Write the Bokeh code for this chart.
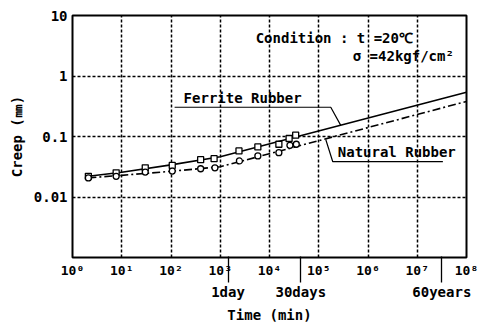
from bokeh.plotting import figure
from bokeh.models import Range1d, FixedTicker, Label, LogAxis
from bokeh.embed import file_html
from bokeh.resources import INLINE

# ---- data ----
ferrite_t = [2.1, 7.7, 30, 106, 400, 750, 2400, 5800, 15500, 25000, 34000]
ferrite_c = [0.022, 0.0251, 0.0304, 0.0332, 0.0414, 0.043, 0.0578, 0.0673, 0.0744, 0.0927, 0.105]
natural_t = [2.1, 7.7, 30, 106, 400, 780, 2450, 5800, 15500, 26000, 35000]
natural_c = [0.0207, 0.022, 0.0258, 0.0268, 0.0293, 0.0304, 0.0394, 0.0477, 0.054, 0.0716, 0.0744]

# fitted / extrapolated curves
ferrite_fit_t = [2.1, 10, 100, 1000, 1e8]
ferrite_fit_c = [0.022, 0.0256, 0.034, 0.0464, 0.54]
natural_fit_t = [2.1, 10, 100, 1000, 1e8]
natural_fit_c = [0.0207, 0.0228, 0.0266, 0.0316, 0.38]

x_ticks = [1, 10, 100, 1000, 1e4, 1e5, 1e6, 1e7, 1e8]
x_tick_labels = ["10⁰", "10¹", "10²", "10³", "10⁴", "10⁵", "10⁶", "10⁷", "10⁸"]
y_ticks = [0.01, 0.1, 1, 10]
y_tick_labels = ["0.01", "0.1", "1", "10"]

event_minutes = [1440, 43200, 31536000]
event_labels = ["1day", "30days", "60years"]

FONT = "DejaVu Sans Mono"

p = figure(width=480, height=329, x_axis_type="log", y_axis_type="log",
           x_range=Range1d(1, 1e8), y_range=Range1d(1e-3, 10),
           output_backend="svg", toolbar_location=None,
           min_border_left=72, min_border_right=14, min_border_top=15, min_border_bottom=72)

p.outline_line_color = "black"
p.outline_line_width = 2
p.background_fill_color = "white"
p.border_fill_color = "white"

# axes
p.xaxis.ticker = FixedTicker(ticks=x_ticks)
p.xaxis.major_label_overrides = {t: l for t, l in zip(x_ticks, x_tick_labels)}
p.yaxis.ticker = FixedTicker(ticks=y_ticks)
p.yaxis.major_label_overrides = {t: l for t, l in zip(y_ticks, y_tick_labels)}
for ax in (p.xaxis, p.yaxis):
    ax.axis_line_color = None
    ax.major_tick_line_color = None
    ax.minor_tick_line_color = None
    ax.major_tick_out = 0
    ax.major_tick_in = 0
    ax.minor_tick_out = 0
    ax.minor_tick_in = 0
    ax.major_label_text_font = FONT
    ax.major_label_text_color = "black"
    ax.major_label_text_font_style = "bold"
    ax.major_label_standoff = 5
p.xaxis.major_label_text_font_size = "13px"
p.yaxis.major_label_text_font_size = "14px"
p.yaxis.axis_label = "Creep (㎜)"
p.yaxis.axis_label_text_font = FONT
p.yaxis.axis_label_text_font_size = "14px"
p.yaxis.axis_label_text_font_style = "bold"
p.yaxis.axis_label_text_color = "black"
p.yaxis.axis_label_standoff = 6

# event axis (arrows as ticks reaching up to the frame)
ev_axis = LogAxis(ticker=FixedTicker(ticks=event_minutes),
                  major_label_overrides={t: l for t, l in zip(event_minutes, event_labels)})
ev_axis.axis_line_color = None
ev_axis.minor_tick_line_color = None
ev_axis.minor_tick_in = 0
ev_axis.minor_tick_out = 0
ev_axis.major_tick_line_color = "black"
ev_axis.major_tick_line_width = 1.3
ev_axis.major_tick_in = 24
ev_axis.major_tick_out = 2
ev_axis.major_label_standoff = 1
ev_axis.major_label_text_font = FONT
ev_axis.major_label_text_font_size = "14px"
ev_axis.major_label_text_font_style = "bold"
ev_axis.major_label_text_color = "black"
ev_axis.axis_label = "Time (min)"
ev_axis.axis_label_text_font = FONT
ev_axis.axis_label_text_font_size = "14px"
ev_axis.axis_label_text_font_style = "bold"
ev_axis.axis_label_text_color = "black"
ev_axis.axis_label_standoff = 4
p.add_layout(ev_axis, "below")

# grid
p.xgrid.ticker = FixedTicker(ticks=x_ticks[1:-1])
p.ygrid.ticker = FixedTicker(ticks=y_ticks[:-1])
for g in (p.xgrid, p.ygrid):
    g.grid_line_color = "black"
    g.grid_line_dash = "3 2"
    g.grid_line_width = 1.5
    g.grid_line_alpha = 1.0

# curves
p.line(ferrite_fit_t, ferrite_fit_c, line_color="black", line_width=1.6)
p.line(natural_fit_t, natural_fit_c, line_color="black", line_width=1.6, line_dash="8 3 2 3")

# markers
p.scatter(ferrite_t, ferrite_c, marker="square", size=6, fill_color="white",
          line_color="black", line_width=1.3)
p.scatter(natural_t, natural_c, marker="circle", size=6, fill_color="white",
          line_color="black", line_width=1.3)

def ly(page_y):
    # page pixel row -> data value (60 px per decade, 0.1 at row 138)
    return 10 ** ((138 - page_y) / 60 - 1)

def lx(page_x):
    return 10 ** ((page_x - 72) / 49.2)

def lab(x, y, text, align="left"):
    p.add_layout(Label(x=x, y=y, text=text, text_font=FONT, text_font_size="14px",
                       text_font_style="bold", text_color="black",
                       text_baseline="middle", text_align=align))

# condition text
lab(lx(255), ly(40), "Condition : t =20℃")
lab(lx(453), ly(58), "σ =42kgf/cm²", align="right")

# Ferrite label + leader
lab(lx(183), ly(100), "Ferrite Rubber")
p.line([lx(174), lx(330), lx(340)], [ly(109), ly(109), ly(127)], line_color="black", line_width=1.2)

# Natural label + leader
lab(lx(337), ly(153), "Natural Rubber")
p.line([lx(325), lx(332), lx(442)], [ly(141), ly(163), ly(163)], line_color="black", line_width=1.2)

open("out.html", "w").write(file_html(p, INLINE))
